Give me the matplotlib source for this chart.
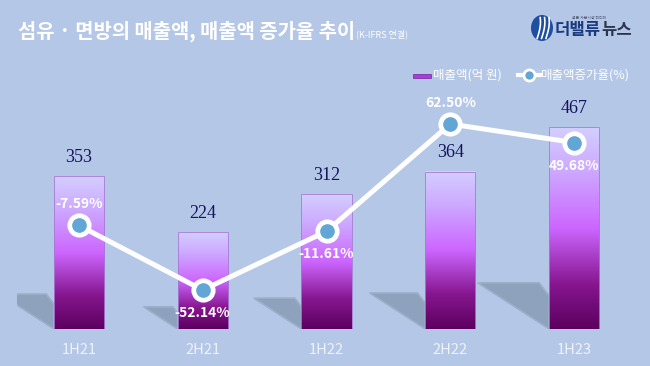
import numpy as np
import matplotlib
matplotlib.use("Agg")
import matplotlib.pyplot as plt
from matplotlib.colors import LinearSegmentedColormap
from matplotlib.patches import Polygon, Rectangle, Ellipse
from matplotlib.lines import Line2D

plt.rcParams['font.family'] = ['Noto Sans CJK KR', 'DejaVu Sans']

categories = ["1H21", "2H21", "1H22", "2H22", "1H23"]
sales = [353, 224, 312, 364, 467]
growth = [-7.59, -52.14, -11.61, 62.50, 49.68]
growth_labels = ["-7.59%", "-52.14%", "-11.61%", "62.50%", "49.68%"]
growth_pos = ["above", "below", "below", "above", "below"]

BG = '#B4C7E7'
fig = plt.figure(figsize=(6.5, 3.66), dpi=100, facecolor=BG)

ax = fig.add_axes([17/650, 1-329/366, 619/650, 229/366])
ax.set_facecolor('none')
for s in ax.spines.values():
    s.set_visible(False)
ax.set_yticks([])
ax.set_xticks(range(len(categories)))
ax.set_xticklabels(categories, color='#EEF2FA', fontsize=10.5)
ax.tick_params(axis='x', length=0, pad=10)

cmap = LinearSegmentedColormap.from_list('barg', [
    (0.0, '#5C005F'), (0.22, '#86168F'), (0.5, '#CC66FF'), (0.78, '#CDA8FF'), (1.0, '#D3CEFF')])
w = 0.404
grad = np.linspace(0, 1, 256).reshape(-1, 1)
for i, v in enumerate(sales):
    xl = i - w/2
    L = 0.001236 * v
    H = 0.229 * v
    shadow = Polygon([(xl - L, H), (xl - 0.14*L, H), (xl, 0.72*H), (xl, 0)],
                     closed=True, facecolor='#8FA2BD', edgecolor='#9DB0CA',
                     linewidth=1.2, zorder=1)
    ax.add_patch(shadow)
    ax.imshow(grad, extent=[xl, xl + w, 0, v], origin='lower', cmap=cmap,
              aspect='auto', zorder=2, interpolation='bicubic')
    ax.add_patch(Rectangle((xl, 0), w, v, facecolor='none', edgecolor='#A57AD6',
                           linewidth=0.6, zorder=3))
    ax.annotate(str(v), (i, v), xytext=(0, 19), textcoords='offset pixels',
                ha='center', va='center', fontsize=13, color='#13135E',
                family='Liberation Serif', zorder=4)
ax.set_xlim(-0.5, 4.5)
ax.set_ylim(0, 529.5)

ax2 = ax.twinx()
ax2.set_ylim(-79.07, 79.07)
ax2.set_yticks([])
for s in ax2.spines.values():
    s.set_visible(False)
ax2.plot(range(len(categories)), growth, color='white', linewidth=3.6,
         marker='o', markersize=14, markerfacecolor='#62A6D6',
         markeredgecolor='white', markeredgewidth=3.4, zorder=5, solid_capstyle='round')
for i, (g, lab, pos) in enumerate(zip(growth, growth_labels, growth_pos)):
    dy = 21 if pos == 'above' else -23
    ax2.annotate(lab, (i, g), xytext=(0, dy), textcoords='offset pixels',
                 ha='center', va='center', fontsize=10, color='white',
                 fontweight='semibold', zorder=6)

renderer = fig.canvas.get_renderer()

# Title
t1 = fig.text(18/650, 1-31/366, "섬유 · 면방의 매출액, 매출액 증가율 추이", color='white',
              fontsize=14.3, fontweight='bold', ha='left', va='center')
bb = t1.get_window_extent(renderer)
fig.text(bb.x1/650 + 1/650, 1-34/366, "(K-IFRS 연결)", color='white', fontsize=6.5,
         ha='left', va='center')

# Legend
fig.patches.append(Rectangle((413/650, 1-77.5/366), 18/650, 4/366,
                             transform=fig.transFigure, facecolor='#A63ED8',
                             edgecolor='#7A1FA0', linewidth=0.5))
fig.text(433/650, 1-75/366, "매출액(억 원)", color='white', fontsize=9,
         ha='left', va='center')
fig.lines.append(Line2D([518/650, 540/650], [1-75/366, 1-75/366], transform=fig.transFigure,
                        color='white', linewidth=3))
fig.lines.append(Line2D([529/650], [1-75/366], transform=fig.transFigure, marker='o',
                        markersize=8, markerfacecolor='#62A6D6', markeredgecolor='white',
                        markeredgewidth=2, linestyle='none'))
fig.text(541/650, 1-75/366, "매출액증가율(%)", color='white', fontsize=9,
         ha='left', va='center')

# Logo
lax = fig.add_axes([531/650, 1-41/366, 22/650, 26/366])
lax.set_xlim(0, 1); lax.set_ylim(0, 1); lax.axis('off')
lax.add_patch(Ellipse((0.5, 0.5), 1.0, 1.0, facecolor='#1E4FA0', edgecolor='none'))
for xo in [0.28, 0.48, 0.68]:
    t = np.linspace(0.1, 0.9, 30)
    lax.plot(xo + 0.15*np.sin((t-0.1)*2.5), t, color='white', linewidth=1.2)
l1 = fig.text(555/650, 1-30/366, "더밸류", color='#1B3A80', fontsize=12,
              fontweight='black', style='italic', ha='left', va='center')
bl = l1.get_window_extent(renderer)
fig.text((bl.x1 + 0.5)/650, 1-30/366, "뉴스", color='#2A3550', fontsize=12,
         fontweight='black', ha='left', va='center')
fig.text(572/650, 1-18/366, "젊은 자본시장 미디어", color='#4A5570', fontsize=2.8,
         ha='left', va='center')

fig.savefig('out.png', dpi=100, facecolor=BG)
